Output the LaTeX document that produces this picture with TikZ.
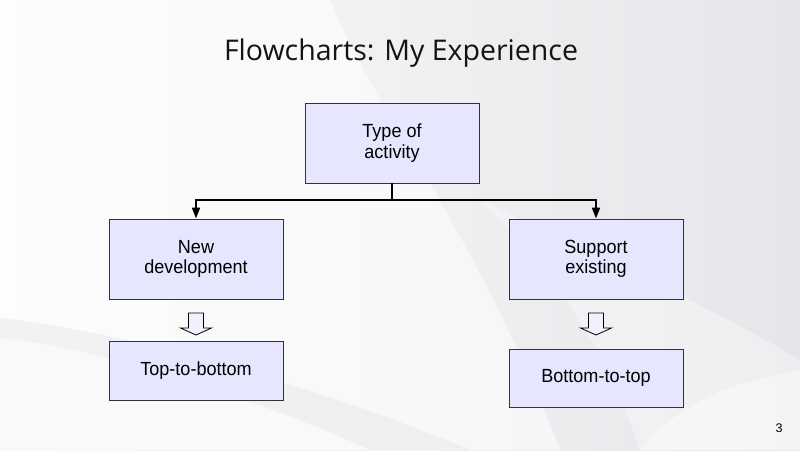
\documentclass[tikz,border=0pt]{standalone}
\usepackage{fontspec}
\setmainfont{Liberation Sans}
\newfontfamily\boxfont{Liberation Sans}[FakeStretch=0.95]
\newfontfamily\titlefont{Open Sans}
\usetikzlibrary{arrows.meta}
\definecolor{boxfill}{HTML}{E6E6FF}
\definecolor{boxline}{HTML}{333333}
\definecolor{bgA}{HTML}{FBFBFC}
\definecolor{bgB}{HTML}{E6E6EA}
\begin{document}
\begin{tikzpicture}[x=1pt,y=-1pt,
  box/.style={draw=boxline, line width=0.9pt, fill=boxfill, minimum width=174pt,
    minimum height=80pt, align=center, inner sep=0pt,
    font=\boxfont\fontsize{19}{20.5}\selectfont},
  conn/.style={line width=2pt, -{Triangle[length=11pt,width=8pt]}},
  blockarrow/.style={draw=black, line width=0.8pt, fill=boxfill!60!white, line join=miter}]
\useasboundingbox (0,0) rectangle (800,450);
% background
\shade[left color=bgA, right color=bgB] (0,0) rectangle (800,450);
\fill[white, opacity=0.55] (0,0) -- (330,0) .. controls (380,120) and (470,220) .. (560,450) -- (0,450) -- cycle;
\fill[bgB, opacity=0.45] (0,318) .. controls (120,330) and (330,390) .. (470,450) -- (0,450) -- cycle;
\fill[white, opacity=0.6] (0,338) .. controls (100,348) and (260,400) .. (370,450) -- (0,450) -- cycle;
\fill[white, opacity=0.35] (480,200) .. controls (600,260) and (700,300) .. (800,360) -- (800,450) -- (640,450) .. controls (600,330) and (540,260) .. (480,200) -- cycle;
\fill[white, opacity=0.4] (640,450) .. controls (680,400) and (740,380) .. (800,370) -- (800,450) -- cycle;
% title
\node[font=\titlefont\fontsize{28.5}{32}\selectfont, text=black!92] (title) at (401,53) {Flowcharts: My Experience};
% boxes
\node[box] (top) at (392,143) {Type of\\activity};
\node[box] (new) at (196,259) {New\\development};
\node[box] (sup) at (596,259) {Support\\existing};
\node[box, minimum height=59pt] (ttb) at (196,370.5) {Top-to-bottom};
\node[box, minimum height=58pt] (btt) at (596,378) {Bottom-to-top};
% connectors
\draw[conn] (top.south) -- ++(0,17) -| (new.north);
\draw[conn] (top.south) -- ++(0,17) -| (sup.north);
% block arrows
\coordinate (a1) at (196,313);
\coordinate (a2) at (596,313);
\foreach \c in {a1,a2}
  \draw[blockarrow] (\c) ++(-7.5,0) -- ++(15,0) -- ++(0,15) -- ++(8,0) -- ++(-15.5,7)
    -- ++(-15.5,-7) -- ++(8,0) -- cycle;
% page number
\node[font=\fontsize{12.5}{14}\selectfont] (pg) at (779,428) {3};
\end{tikzpicture}
\end{document}
